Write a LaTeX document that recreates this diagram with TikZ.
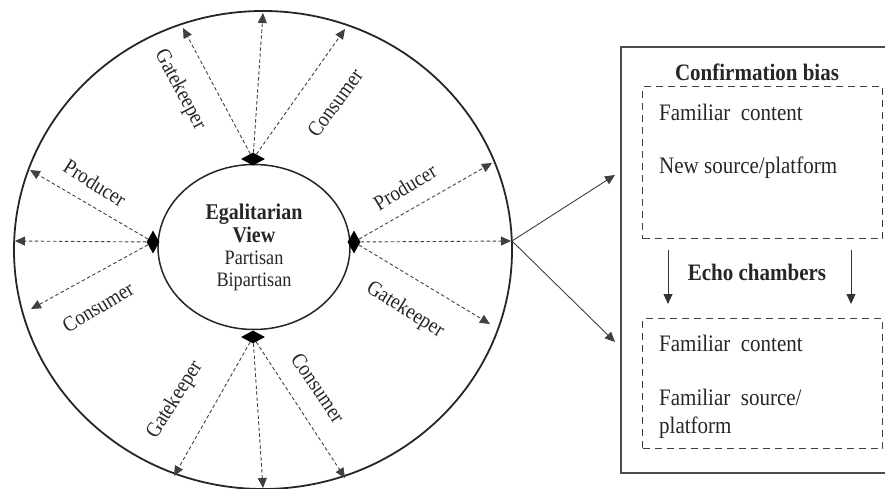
\documentclass[tikz,border=0pt]{standalone}
\usepackage{fontspec}
\setmainfont[FakeStretch=0.89]{Liberation Serif}
\usetikzlibrary{arrows.meta, shapes.geometric, positioning}
\newcommand{\hdfont}{\fontsize{22.5}{26}\selectfont\bfseries}
\newcommand{\boxfont}{\fontsize{23.6}{28}\selectfont}

\begin{document}
\begin{tikzpicture}[x=1pt, y=-1pt, >={Triangle[length=10pt,width=9pt]},
  hub/.style={diamond, fill=black, inner sep=0pt},
  ray/.style={->, dash pattern=on 3.5pt off 2.5pt, line width=.9pt, black!75},
  role/.style={font=\fontsize{21.5}{24}\selectfont, inner sep=1pt, text=black!85},
  itembox/.style={draw, dash pattern=on 7pt off 5pt, line width=1.3pt, black!75,
    minimum width=240pt, anchor=north west},
  item/.style={font=\boxfont, anchor=west, align=left, inner sep=0pt, text=black!85}]

\useasboundingbox (0,0) rectangle (885,489);
\clip (0,0) rectangle (885,489);

% the two ellipses
\node[draw, ellipse, line width=1.8pt, black!85, minimum width=498pt, minimum height=478pt] (outer) at (263,250) {};
\node[draw, ellipse, line width=1.5pt, black!85, minimum width=192pt, minimum height=165pt,
  align=center, font=\fontsize{20.5}{22}\selectfont, text=black!85] (view) at (254,247)
  {{\hdfont Egalitarian}\\[1pt]{\hdfont View}\\Partisan\\Bipartisan};

% hubs on the inner ellipse
\node[hub, minimum width=24pt, minimum height=13pt] (hubT) at (253,159) {};
\node[hub, minimum width=13pt, minimum height=23pt] (hubR) at (354,242) {};
\node[hub, minimum width=13pt, minimum height=23pt] (hubL) at (153,242) {};
\node[hub, minimum width=24pt, minimum height=13pt] (hubB) at (253,337) {};

% ends on the outer ellipse
\coordinate (gkT) at (183,28);
\coordinate (upT) at (263,13);
\coordinate (coT) at (345,29);
\coordinate (prR) at (492,163);
\coordinate (midR) at (511,241);
\coordinate (gkR) at (490,324);
\coordinate (prL) at (30,170);
\coordinate (midL) at (15,241);
\coordinate (coL) at (31,309);
\coordinate (gkB) at (174,476);
\coordinate (dnB) at (263,488);
\coordinate (coB) at (345,478);

\draw[ray] (hubT) -- (gkT);
\draw[ray] (hubT) -- (upT);
\draw[ray] (hubT) -- (coT);
\draw[ray] (hubR) -- (prR);
\draw[ray] (hubR) -- (midR);
\draw[ray] (hubR) -- (gkR);
\draw[ray] (hubL) -- (prL);
\draw[ray] (hubL) -- (midL);
\draw[ray] (hubL) -- (coL);
\draw[ray] (hubB) -- (gkB);
\draw[ray] (hubB) -- (dnB);
\draw[ray] (hubB) -- (coB);

% roles along the rays
\node[role, rotate=-62] (gkTl) at (180,90) {Gatekeeper};
\node[role, rotate=54] (coTl) at (335,103) {Consumer};
\node[role, rotate=-32] (prLl) at (95,183) {Producer};
\node[role, rotate=31] (coLl) at (98,307) {Consumer};
\node[role, rotate=31] (prRl) at (405,187) {Producer};
\node[role, rotate=-32] (gkRl) at (405,310) {Gatekeeper};
\node[role, rotate=58] (gkBl) at (175,400) {Gatekeeper};
\node[role, rotate=-56] (coBl) at (318,388) {Consumer};

% right panel
\node[draw, line width=1.6pt, black!70, minimum width=280pt, minimum height=426pt, anchor=north west] (panel) at (620,46) {};
\node[font=\hdfont\fontsize{23.6}{26}\selectfont, text=black!85] (cbtitle) at (757,72) {Confirmation bias};
\node[itembox, minimum height=152pt] (bias) at (642,86) {};
\node[itembox, minimum height=130pt] (echo) at (642,318) {};
\node[item] (fam1) at (659,112) {Familiar\ \ content};
\node[item] (new1) at (659,168) {New source/platform};
\node[font=\hdfont\fontsize{23.6}{26}\selectfont, text=black!85] (ectitle) at (757,272) {Echo chambers};
\node[item] (fam2) at (659,343) {Familiar\ \ content};
\node[item, anchor=north west] (src2) at (659,389) {Familiar\ \ source/\\platform};

\coordinate (dA1) at (668,250);
\coordinate (dA2) at (668,304);
\coordinate (dB1) at (851,250);
\coordinate (dB2) at (851,304);
\draw[->, line width=.9pt, black!80] (dA1) -- (dA2);
\draw[->, line width=.9pt, black!80] (dB1) -- (dB2);

% from the circle to the panel
\coordinate (fork) at (512,241);
\coordinate (toBias) at (615,175);
\coordinate (toEcho) at (615,342);
\draw[->, line width=.9pt, black!75] (fork) -- (toBias);
\draw[->, line width=.9pt, black!75] (fork) -- (toEcho);

\end{tikzpicture}
\end{document}
